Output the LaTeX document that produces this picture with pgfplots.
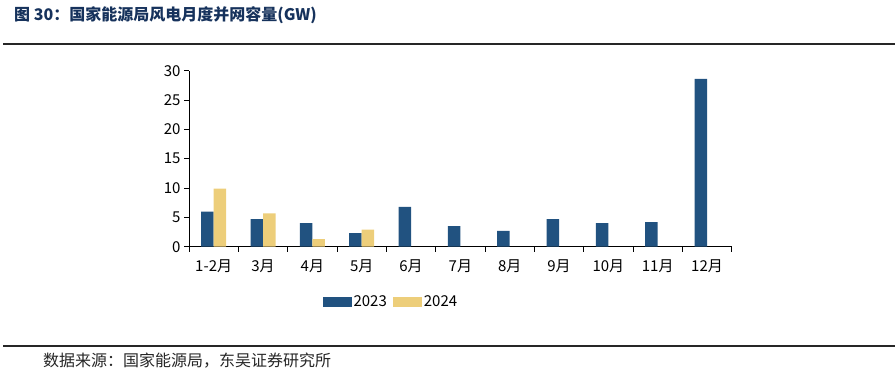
\documentclass[border=0pt]{standalone}
\usepackage{fontspec}
\usepackage{pgfplots}
\pgfplotsset{compat=1.18}
\setmainfont{Noto Sans CJK SC}
\definecolor{cblue}{RGB}{33,82,128}
\definecolor{cyellow}{RGB}{237,206,122}
\definecolor{cnavy}{RGB}{22,50,92}
\begin{document}
\begin{tikzpicture}[x=1pt,y=1pt]
\path[use as bounding box] (0,0) rectangle (896,373);
\node[anchor=west,inner sep=0pt,text=cnavy,font=\fontsize{16}{18}\selectfont\bfseries] at (14,358) {图 30：国家能源局风电月度并网容量(GW)};
\draw[line width=2pt,black!85] (3,328.5) -- (895,328.5);
\draw[line width=2pt,black!85] (3,27) -- (895,27);
\node[anchor=west,inner sep=0pt,text=black!85,font=\fontsize{16}{18}\selectfont] at (43,12) {数据来源：国家能源局，东吴证券研究所};
\begin{axis}[
  at={(189pt,126.3pt)}, anchor=south west,
  scale only axis, width=542.7pt, height=176pt,
  xmin=-0.5, xmax=10.5, ymin=0, ymax=30,
  ybar=0pt, bar width=12.5pt,
  axis x line*=bottom, axis y line*=left,
  axis line style={-, black, line width=0.8pt},
  xtick={0,...,10},
  xticklabels={1-2月,3月,4月,5月,6月,7月,8月,9月,10月,11月,12月},
  minor xtick={-0.5,0.5,...,10.5},
  major x tick style={draw=none},
  minor x tick style={black, line width=0.8pt},
  tick align=outside,
  minor tick length=5pt,
  ytick={0,5,...,30},
  major y tick style={black, line width=0.8pt},
  major tick length=5pt,
  tick label style={font=\fontsize{15}{17}\selectfont, text=black},
  xticklabel style={yshift=-4pt},
  /pgf/number format/assume math mode=true,
  legend style={at={(axis description cs:0.372,-0.314)}, anchor=center, draw=none, fill=none, legend columns=2,
    font=\fontsize{15}{17}\selectfont, /tikz/every even column/.append style={column sep=4pt}},
  legend image code/.code={\fill[#1] (0pt,-5pt) rectangle (29pt,5pt);},
]
\addplot[fill=cblue, draw=none] coordinates {(0,6.0) (1,4.7) (2,4.0) (3,2.3) (4,6.8) (5,3.5) (6,2.7) (7,4.7) (8,4.0) (9,4.2) (10,28.6)};
\addplot[fill=cyellow, draw=none] coordinates {(0,9.9) (1,5.7) (2,1.3) (3,2.9)};
\legend{2023,2024}
\end{axis}
\end{tikzpicture}
\end{document}
